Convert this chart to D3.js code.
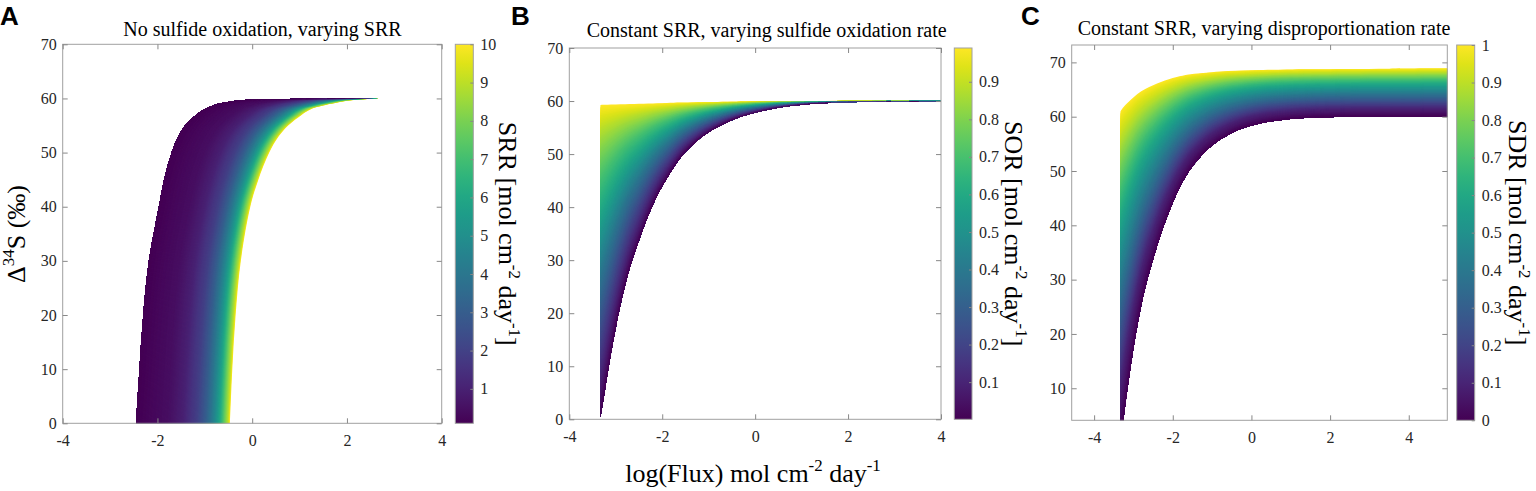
<!doctype html>
<html>
  <head>
    <script src="https://cdn.jsdelivr.net/npm/d3@7"></script>
    <style>
      body { margin: 0; background: #fff; }
      text { font-family: "Liberation Serif", "Times New Roman", serif; }
    </style>
  </head>
  <body>
    <svg id="fig" width="1536" height="491"></svg>

    <script>
      // ---- Panel A: no sulfide oxidation, varying SRR
      // edges of the shaded band, read as log(Flux) at given Δ34S
      var aDelta  = [0, 10, 20, 30, 40, 45, 50, 53, 55, 57, 58, 59, 59.5, 59.8];
      var aLeftX  = [-2.45, -2.38, -2.30, -2.18, -1.97, -1.86, -1.70, -1.56, -1.42, -1.18, -1.01, -0.72, -0.40, 0.02];
      var aRightX = [-0.47, -0.42, -0.35, -0.24, -0.04, 0.13, 0.36, 0.56, 0.76, 1.05, 1.24, 1.66, 1.95, 2.27];
      var aTip    = [2.72, 60];
      // where each SRR value sits across the band (0 = left edge, 1 = right edge)
      var srrLevels = [0.1, 0.5, 1, 2, 3, 4, 5, 6, 7, 8, 9, 10];
      var srrPos    = [0, 0.35, 0.5, 0.65, 0.74, 0.8, 0.85, 0.89, 0.92, 0.95, 0.98, 1];

      // ---- Panel B: constant SRR, varying sulfide oxidation rate
      var bFlux = [-3.33, -3.25, -3.1, -2.9, -2.7, -2.5, -2.3, -2.1, -1.9, -1.6, -1.3, -1.0, -0.6, -0.2, 0.3, 0.9, 1.5, 2.5, 4];
      var bLow  = [0.3, 4.5, 12.5, 21.5, 28.5, 33.7, 38.4, 42.3, 45.4, 49.4, 52.1, 54.1, 56.0, 57.3, 58.4, 59.2, 59.6, 59.85, 59.95];
      var bHigh = [59.25, 59.28, 59.33, 59.39, 59.44, 59.5, 59.55, 59.6, 59.65, 59.72, 59.78, 59.83, 59.88, 59.93, 59.97, 60, 60.02, 60.05, 60.1];
      var sorLevels = [0.001, 0.1, 0.2, 0.3, 0.4, 0.5, 0.6, 0.7, 0.8, 0.9, 0.99];
      var sorPos    = [0, 0.12, 0.245, 0.36, 0.47, 0.57, 0.67, 0.77, 0.855, 0.935, 1];

      // ---- Panel C: constant SRR, varying disproportionation rate
      var cFlux = [-3.33, -3.25, -3.1, -2.9, -2.7, -2.5, -2.3, -2.1, -1.9, -1.6, -1.3, -1.0, -0.6, -0.2, 0.3, 0.9, 1.5, 2.5, 3.5, 5];
      var cLow  = [0.3, 4.5, 12.5, 21.5, 28.5, 33.7, 38.4, 42.3, 45.8, 49.8, 52.6, 54.7, 56.6, 57.9, 58.9, 59.5, 59.8, 60, 60, 60.05];
      var cHigh = [61.0, 61.8, 62.9, 64.2, 65.1, 65.8, 66.4, 66.9, 67.3, 67.75, 68.0, 68.2, 68.4, 68.5, 68.6, 68.7, 68.75, 68.8, 68.85, 68.9];
      var sdrLevels = [0, 0.1, 0.2, 0.3, 0.4, 0.5, 0.6, 0.7, 0.8, 0.9, 1];
      var sdrPos    = [0, 0.17, 0.275, 0.377, 0.478, 0.58, 0.68, 0.766, 0.843, 0.918, 1];

      // ---- ticks
      var xTicks   = [-4, -2, 0, 2, 4];
      var yTicksAB = [0, 10, 20, 30, 40, 50, 60, 70];
      var yTicksC  = [10, 20, 30, 40, 50, 60, 70];
      var srrTicks = [1, 2, 3, 4, 5, 6, 7, 8, 9, 10];
      var sorTicks = [0.1, 0.2, 0.3, 0.4, 0.5, 0.6, 0.7, 0.8, 0.9];
      var sdrTicks = [0, 0.1, 0.2, 0.3, 0.4, 0.5, 0.6, 0.7, 0.8, 0.9, 1];

      var serif = "'Liberation Serif', 'Times New Roman', serif";
      var svg = d3.select("#fig");
      var defs = svg.append("defs");

      var grad = defs.append("linearGradient").attr("id", "viridis")
          .attr("x1", 0).attr("y1", 1).attr("x2", 0).attr("y2", 0);
      d3.range(0, 1.0001, 0.05).forEach(function(s) {
        grad.append("stop").attr("offset", s).attr("stop-color", d3.interpolateViridis(s));
      });

      // text with superscript pieces: parts = [[text, isSup], ...]
      function rich(sel, parts, size) {
        var shift = size * 0.42;
        var up = false;
        parts.forEach(function(p) {
          var ts = sel.append("tspan").text(p[0]);
          if (p[1]) {
            ts.attr("font-size", size * 0.65).attr("dy", -shift);
            up = true;
          } else if (up) {
            ts.attr("dy", shift);
            up = false;
          }
        });
      }

      function unitParts(name) {
        return [[name + " [mol cm"], ["-2", true], [" day"], ["-1", true], ["]"]];
      }

      var panels = [
        {
          id: "A", letterX: 0,
          box: [62.7, 441.7, 44.3, 423.3], xDom: [-4, 4], yDom: [0, 70], yTicks: yTicksAB,
          lo: aDelta.map(function(d, i) { return [aLeftX[i], d]; }).concat([aTip]),
          hi: aDelta.map(function(d, i) { return [aRightX[i], d]; }).concat([aTip]),
          pos: srrPos, levels: srrLevels,
          bar: [455.3, 473.3], barDom: [0.1, 10], barTicks: srrTicks, barName: "SRR", barLabelX: 498.5,
          title: "No sulfide oxidation, varying SRR", titleX: 262.5, titleY: 36
        },
        {
          id: "B", letterX: 511,
          box: [569.3, 941, 48, 419.3], xDom: [-4, 4], yDom: [0, 70], yTicks: yTicksAB,
          lo: bFlux.map(function(f, i) { return [f, bLow[i]]; }),
          hi: bFlux.map(function(f, i) { return [f, bHigh[i]]; }),
          pos: sorPos, levels: sorLevels,
          bar: [954.3, 972], barDom: [0.001, 0.99], barTicks: sorTicks, barName: "SOR", barLabelX: 1005,
          title: "Constant SRR, varying sulfide oxidation rate", titleX: 766.7, titleY: 37
        },
        {
          id: "C", letterX: 1021,
          box: [1071.7, 1447.3, 45, 420.3], xDom: [-4.57, 4.98], yDom: [4.1, 73.2], yTicks: yTicksC,
          lo: cFlux.map(function(f, i) { return [f, cLow[i]]; }),
          hi: cFlux.map(function(f, i) { return [f, cHigh[i]]; }),
          pos: sdrPos, levels: sdrLevels,
          bar: [1456.7, 1474.7], barDom: [0, 1], barTicks: sdrTicks, barName: "SDR", barLabelX: 1508.5,
          title: "Constant SRR, varying disproportionation rate", titleX: 1264, titleY: 35
        }
      ];

      panels.forEach(function(p) {
        var x = d3.scaleLinear().domain(p.xDom).range([p.box[0], p.box[1]]);
        var y = d3.scaleLinear().domain(p.yDom).range([p.box[3], p.box[2]]);
        var g = svg.append("g");

        defs.append("clipPath").attr("id", "clip" + p.id)
          .append("rect")
            .attr("x", p.box[0]).attr("y", p.box[2])
            .attr("width", p.box[1] - p.box[0]).attr("height", p.box[3] - p.box[2]);

        // shaded band: stacked regions from the low edge up to each level curve
        var line = d3.line().x(function(d) { return x(d[0]); })
            .y(function(d) { return y(d[1]); }).curve(d3.curveCatmullRom);
        var level = d3.scaleLinear().domain(p.pos).range(p.levels);
        var n = 180;
        var band = g.append("g").attr("clip-path", "url(#clip" + p.id + ")");
        for (var k = n; k >= 1; k--) {
          var t = k / n;
          var edge = p.lo.map(function(a, i) {
            var b = p.hi[i];
            return [a[0] + (b[0] - a[0]) * t, a[1] + (b[1] - a[1]) * t];
          });
          var v = level(t - 0.5 / n);
          band.append("path")
            .attr("d", line(p.lo) + line(edge.reverse()).replace("M", "L") + "Z")
            .attr("fill", d3.interpolateViridis((v - p.barDom[0]) / (p.barDom[1] - p.barDom[0])));
        }

        // box and inward ticks on all four sides
        g.append("rect")
          .attr("x", p.box[0]).attr("y", p.box[2])
          .attr("width", p.box[1] - p.box[0]).attr("height", p.box[3] - p.box[2])
          .attr("fill", "none").attr("stroke", "#a0a0a0").attr("stroke-width", 1);

        function styleAxis(ax) {
          ax.select(".domain").remove();
          ax.attr("font-family", serif).attr("font-size", 16);
          ax.selectAll(".tick line").attr("stroke", "#888");
          ax.selectAll(".tick text").attr("fill", "#262626")
            .style("font-family", serif).style("font-size", "16px");
        }
        var fmt = function(d) { return String(d); };

        g.append("g").attr("transform", "translate(0," + p.box[3] + ")")
          .call(d3.axisBottom(x).tickValues(xTicks).tickSizeInner(-5).tickSizeOuter(0).tickPadding(11).tickFormat(fmt))
          .call(styleAxis);
        g.append("g").attr("transform", "translate(0," + p.box[2] + ")")
          .call(d3.axisTop(x).tickValues(xTicks).tickSizeInner(-5).tickSizeOuter(0).tickFormat(""))
          .call(styleAxis);
        g.append("g").attr("transform", "translate(" + p.box[0] + ",0)")
          .call(d3.axisLeft(y).tickValues(p.yTicks).tickSizeInner(-5).tickSizeOuter(0).tickPadding(6).tickFormat(fmt))
          .call(styleAxis);
        g.append("g").attr("transform", "translate(" + p.box[1] + ",0)")
          .call(d3.axisRight(y).tickValues(p.yTicks).tickSizeInner(-5).tickSizeOuter(0).tickFormat(""))
          .call(styleAxis);

        // colorbar
        var cb = d3.scaleLinear().domain(p.barDom).range([p.box[3], p.box[2]]);
        g.append("rect")
          .attr("x", p.bar[0]).attr("y", p.box[2])
          .attr("width", p.bar[1] - p.bar[0]).attr("height", p.box[3] - p.box[2])
          .attr("fill", "url(#viridis)").attr("stroke", "#a0a0a0").attr("stroke-width", 1);
        g.append("g").attr("transform", "translate(" + p.bar[1] + ",0)")
          .call(d3.axisRight(cb).tickValues(p.barTicks).tickSizeInner(-3).tickSizeOuter(0).tickPadding(7).tickFormat(fmt))
          .call(styleAxis);

        g.append("text")
          .attr("transform", "translate(" + p.barLabelX + "," + ((p.box[2] + p.box[3]) / 2) + ") rotate(90)")
          .attr("text-anchor", "middle").attr("font-size", 26).attr("fill", "#000")
          .call(rich, unitParts(p.barName), 26);

        // title and panel letter
        g.append("text")
          .attr("x", p.titleX).attr("y", p.titleY)
          .attr("text-anchor", "middle").attr("font-size", 20).attr("fill", "#000")
          .text(p.title);
        g.append("text")
          .attr("x", p.letterX).attr("y", 25)
          .attr("font-weight", "bold").attr("font-size", 26).attr("fill", "#000")
          .style("font-family", "'Liberation Sans', Arial, sans-serif")
          .text(p.id);
      });

      // shared axis labels
      svg.append("text")
        .attr("transform", "translate(25,234) rotate(-90)")
        .attr("text-anchor", "middle").attr("font-size", 26).attr("fill", "#000")
        .call(rich, [["\u0394"], ["34", true], ["S (\u2030)"]], 26);

      svg.append("text")
        .attr("x", 753).attr("y", 482)
        .attr("text-anchor", "middle").attr("font-size", 26).attr("fill", "#000")
        .call(rich, [["log(Flux) mol cm"], ["-2", true], [" day"], ["-1", true]], 26);
    </script>
  </body>
</html>
